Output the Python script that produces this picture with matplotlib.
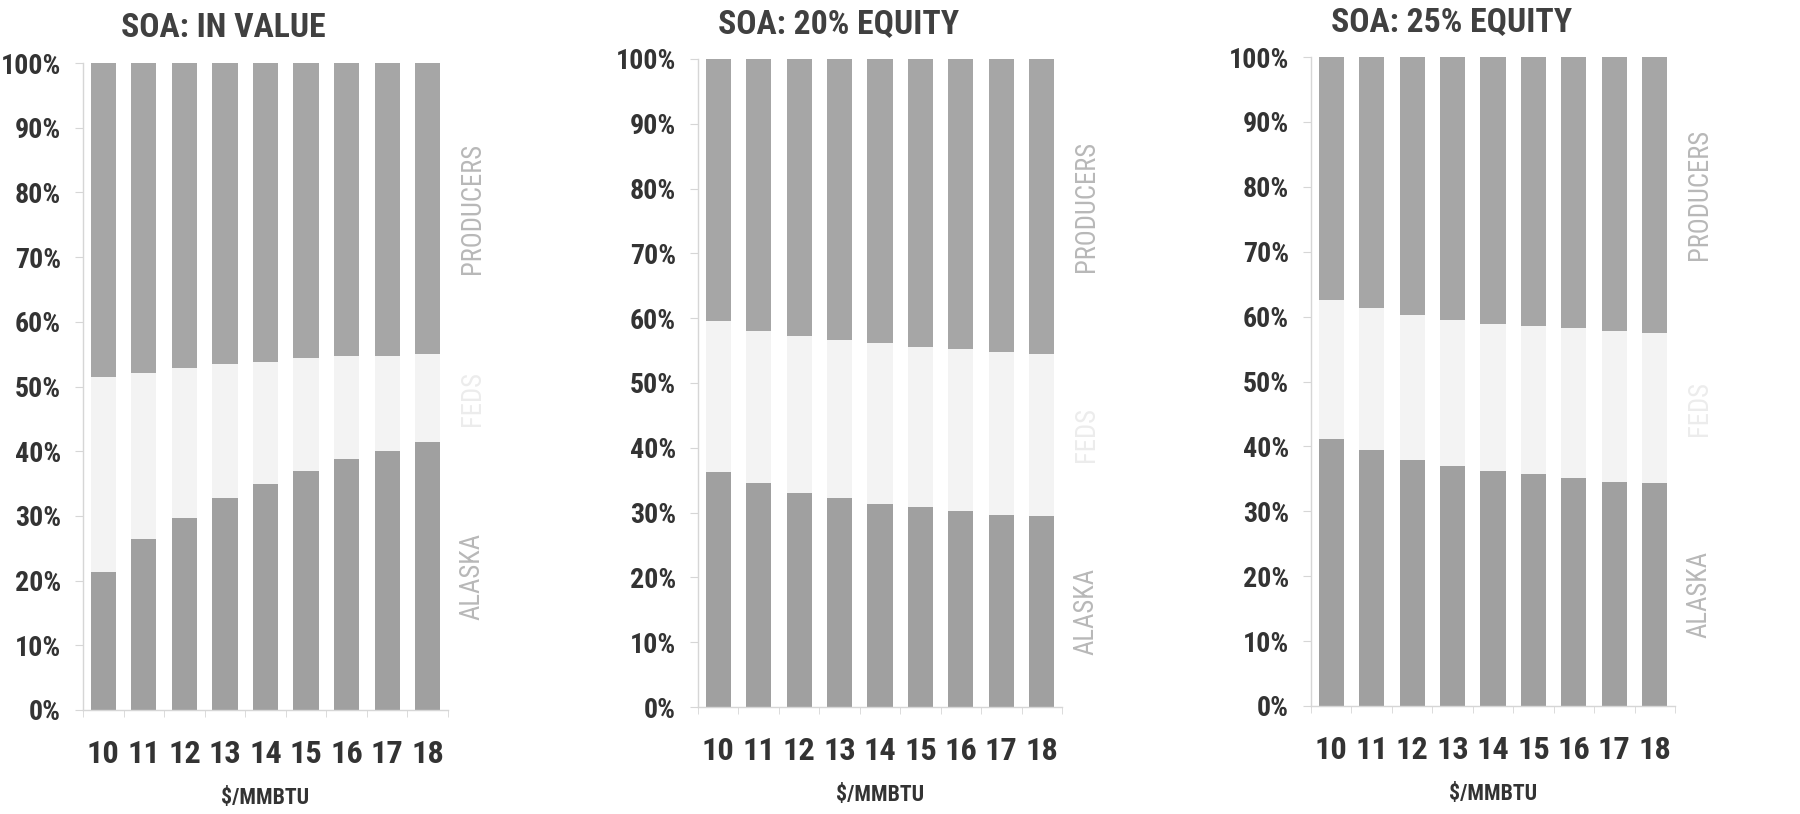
import os
import matplotlib
matplotlib.use("Agg")
import matplotlib.pyplot as plt
from matplotlib import font_manager as fm
from matplotlib.textpath import TextPath
import numpy as np

prices = ["10", "11", "12", "13", "14", "15", "16", "17", "18"]
titles = ["SOA: IN VALUE", "SOA: 20% EQUITY", "SOA: 25% EQUITY"]
y_ticklabels = ["0%", "10%", "20%", "30%", "40%", "50%", "60%", "70%", "80%", "90%", "100%"]

# Alaska share (%) per price scenario
alaska_in_value = [21.4, 26.4, 29.6, 32.7, 35.0, 37.0, 38.8, 40.0, 41.4]
alaska_eq20 = [36.2, 34.5, 33.0, 32.2, 31.4, 30.8, 30.3, 29.6, 29.5]
alaska_eq25 = [41.1, 39.5, 37.9, 37.0, 36.2, 35.7, 35.1, 34.5, 34.3]

# Federal share (%) per price scenario
feds_in_value = [30.1, 25.7, 23.3, 20.8, 18.8, 17.4, 15.9, 14.7, 13.6]
feds_eq20 = [23.3, 23.6, 24.2, 24.5, 24.7, 24.8, 25.0, 25.2, 25.0]
feds_eq25 = [21.4, 21.8, 22.3, 22.4, 22.7, 22.9, 23.1, 23.3, 23.2]

# Producers share (%) per price scenario
producers_in_value = [48.5, 47.9, 47.1, 46.5, 46.2, 45.6, 45.3, 45.3, 45.0]
producers_eq20 = [40.5, 41.9, 42.8, 43.3, 43.9, 44.4, 44.7, 45.2, 45.5]
producers_eq25 = [37.5, 38.7, 39.8, 40.6, 41.1, 41.4, 41.8, 42.2, 42.5]

panels = [
    (alaska_in_value, feds_in_value, producers_in_value),
    (alaska_eq20, feds_eq20, producers_eq20),
    (alaska_eq25, feds_eq25, producers_eq25),
]

DPI = 100
PT_PER_PX = 72 / DPI

LATIN_FAMILIES = ("notosans", "opensans", "dejavusans", "liberationsans",
                  "roboto", "lato", "inter")


def extents(path, text, size=100):
    prop = fm.FontProperties(fname=path, size=size)
    ext = TextPath((0, 0), text, prop=prop).get_extents()
    return ext.width, ext.height


def narrow_candidates():
    out = []
    for f in fm.fontManager.ttflist:
        stem = os.path.splitext(os.path.basename(f.fname))[0].lower()
        fam = stem.split("-")[0].replace("_", "")
        if not fam.startswith(LATIN_FAMILIES):
            continue
        if not any(k in stem for k in ("condensed", "narrow", "cond")):
            continue
        if "italic" in stem or f.style != "normal":
            continue
        out.append(f)
    return out


def narrowest_face(cands, bold):
    best = None
    for f in cands:
        w = f.weight if isinstance(f.weight, (int, float)) else 400
        if bold and not (600 <= w <= 900):
            continue
        if not bold and not (350 <= w <= 550):
            continue
        try:
            wd, ht = extents(f.fname, "100%")
        except Exception:
            continue
        if ht <= 0:
            continue
        r = wd / ht
        if best is None or r < best[0]:
            best = (r, f.fname)
    return best[1] if best else None


CANDS = narrow_candidates()
BOLD = narrowest_face(CANDS, True)
REG = narrowest_face(CANDS, False) or BOLD


def fitted(text, cap_px, max_w_px, path):
    """Font size (pt) giving the wanted cap height without exceeding a width."""
    if path is None:
        return fm.FontProperties(family="DejaVu Sans", weight="bold",
                                 size=cap_px * 0.6)
    wd, _ = extents(path, text)
    _, hcap = extents(path, "H")
    s_h = 100 * cap_px * PT_PER_PX / hcap
    s_w = 100 * max_w_px * PT_PER_PX / wd
    return fm.FontProperties(fname=path, size=min(s_h, s_w))


fp_ytick = fitted("100%", 24, 57, BOLD)
fp_xtick = fitted("18", 23, 30, BOLD)
fp_xlabel = fitted("$/MMBTU", 17, 86, BOLD)
fp_title = fitted("SOA: 25% EQUITY", 24, 245, BOLD)
fp_series = fitted("PRODUCERS", 20, 128, REG)

c_alaska = "#a0a0a0"
c_feds = "#f3f3f3"
c_prod = "#a6a6a6"
dark = "#333333"
axis_c = "#d6d6d6"

W, H = 1800, 814
fig = plt.figure(figsize=(W / DPI, H / DPI), dpi=DPI)

# axes boxes in pixels: left, right, top, bottom
boxes = [(83, 448, 63, 710), (698, 1062, 59, 707), (1311, 1675, 57, 706)]

x = np.arange(len(prices))
for (alaska, feds, prod), title, (l, r, t, b) in zip(panels, titles, boxes):
    ax = fig.add_axes([l / W, (H - b) / H, (r - l) / W, (b - t) / H])
    alaska = np.array(alaska) / 100
    feds = np.array(feds) / 100
    prod = np.array(prod) / 100
    bw = 0.62
    ax.bar(x, alaska, bw, color=c_alaska, linewidth=0)
    ax.bar(x, feds, bw, bottom=alaska, color=c_feds, linewidth=0)
    ax.bar(x, prod, bw, bottom=alaska + feds, color=c_prod, linewidth=0)

    ax.set_xlim(-0.5, len(prices) - 0.5)
    ax.set_ylim(0, 1)
    for s in ["top", "right"]:
        ax.spines[s].set_visible(False)
    for s in ["left", "bottom"]:
        ax.spines[s].set_color(axis_c)
        ax.spines[s].set_linewidth(1.0)

    ax.set_yticks(np.linspace(0, 1, 11))
    ax.set_yticklabels(y_ticklabels, fontproperties=fp_ytick, color=dark)
    ax.tick_params(axis="y", length=6, color=axis_c, pad=10)

    ax.set_xticks(x)
    ax.set_xticklabels(prices, fontproperties=fp_xtick, color=dark)
    ax.set_xticks(np.arange(len(prices) + 1) - 0.5, minor=True)
    ax.tick_params(axis="x", which="major", length=0, pad=21)
    ax.tick_params(axis="x", which="minor", length=5, color=axis_c)
    ax.set_xlabel("$/MMBTU", fontproperties=fp_xlabel, color=dark, labelpad=13)

    ax.text(0.385, 1.04, title, transform=ax.transAxes, ha="center",
            va="baseline", fontproperties=fp_title, color="#404040")

    # series names beside the last column
    last = len(prices) - 1
    xl = last + 0.5 + 0.6
    ax.text(xl, alaska[last] / 2, "ALASKA", rotation=90, ha="center", va="center",
            fontproperties=fp_series, color="#b8b8b8", clip_on=False)
    ax.text(xl, alaska[last] + feds[last] / 2, "FEDS", rotation=90, ha="center",
            va="center", fontproperties=fp_series, color="#ececec", clip_on=False)
    ax.text(xl, alaska[last] + feds[last] + prod[last] / 2, "PRODUCERS", rotation=90,
            ha="center", va="center", fontproperties=fp_series, color="#b8b8b8",
            clip_on=False)

fig.savefig("out.png", dpi=DPI, facecolor="white")
